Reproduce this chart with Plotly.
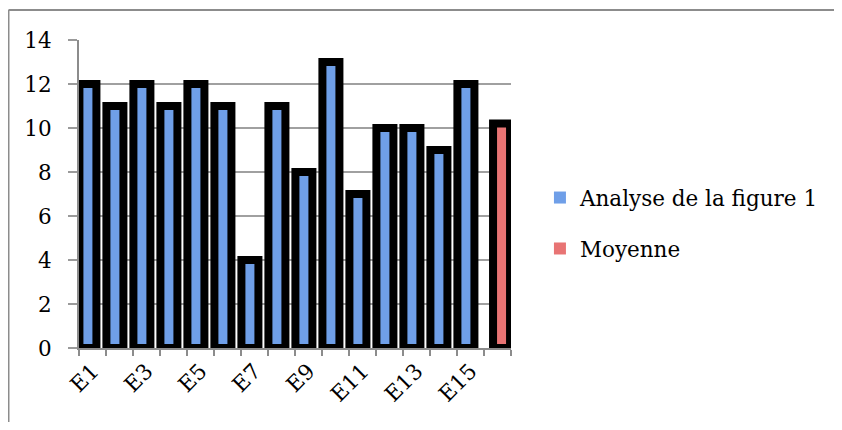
import plotly.graph_objects as go

categories = ["E1", "E2", "E3", "E4", "E5", "E6", "E7", "E8", "E9", "E10",
              "E11", "E12", "E13", "E14", "E15", "Moyenne"]
tick_labels = ["E1", "", "E3", "", "E5", "", "E7", "", "E9", "",
               "E11", "", "E13", "", "E15", ""]
analyse_values = [12, 11, 12, 11, 12, 11, 4, 11, 8, 13, 7, 10, 10, 9, 12, None]
moyenne_values = [None] * 15 + [10.2]

series_names = ["Analyse de la figure 1", "Moyenne"]
blue = "#6f9fe8"
red = "#e87474"
FONT = "DejaVu Serif"
FS = 21.5

fig = go.Figure()
fig.add_trace(go.Bar(
    x=categories, y=analyse_values, name=series_names[0],
    width=0.63, offset=-0.485,
    marker=dict(color=blue, line=dict(color="black", width=8)),
    showlegend=False,
))
fig.add_trace(go.Bar(
    x=categories, y=moyenne_values, name=series_names[1],
    width=0.63, offset=-0.165,
    marker=dict(color=red, line=dict(color="black", width=8)),
    showlegend=False,
))
# legend entries (without the thick outline)
fig.add_trace(go.Bar(x=[categories[0]], y=[None], name=series_names[0],
                     marker=dict(color=blue, line=dict(width=0)),
                     legendgroup="a"))
fig.add_trace(go.Bar(x=[categories[0]], y=[None], name=series_names[1],
                     marker=dict(color=red, line=dict(width=0)),
                     legendgroup="b"))

fig.update_layout(
    width=826, height=414,
    margin=dict(l=71, r=323, t=32, b=74, autoexpand=False),
    paper_bgcolor="white", plot_bgcolor="white",
    barmode="overlay",
    font=dict(family=FONT, size=FS, color="black"),
    legend=dict(x=1.067, xanchor="left", y=0.555, yanchor="top",
                font=dict(family=FONT, size=FS), tracegroupgap=20,
                traceorder="grouped", bgcolor="rgba(0,0,0,0)"),
    xaxis=dict(
        type="category", categoryorder="array", categoryarray=categories,
        tickmode="array", tickvals=categories, ticktext=tick_labels,
        tickson="boundaries", ticks="outside", ticklen=6, tickwidth=1.5,
        tickcolor="#8c8c8c", tickangle=-45,
        showline=True, linecolor="#8c8c8c", linewidth=2,
        showgrid=False, tickfont=dict(family=FONT, size=FS),
        range=[-0.5, 15.5],
    ),
    yaxis=dict(
        range=[0, 14], dtick=2, tick0=0,
        ticks="outside", ticklen=9, tickwidth=1.5, tickcolor="#9a9a9a",
        ticklabelstandoff=12,
        showline=True, linecolor="#8c8c8c", linewidth=2,
        showgrid=True, gridcolor="#a0a0a0", gridwidth=1.5,
        zeroline=False, tickfont=dict(family=FONT, size=FS),
    ),
    shapes=[
        dict(type="line", xref="paper", yref="paper",
             x0=-0.1632, x1=-0.1632, y0=-0.3, y1=1.0974,
             line=dict(color="#8c8c8c", width=2)),
        dict(type="line", xref="paper", yref="paper",
             x0=-0.1632, x1=1.8, y0=1.0974, y1=1.0974,
             line=dict(color="#8c8c8c", width=2)),
    ],
)

fig.write_html("out.html")
